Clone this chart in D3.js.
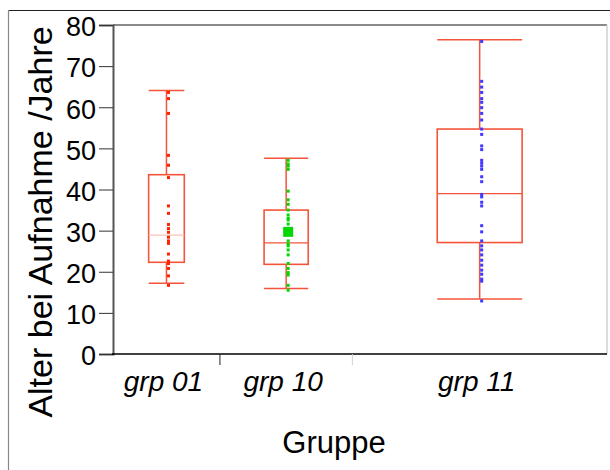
<!DOCTYPE html>
<html>
<head>
<meta charset="utf-8">
<script src="https://cdn.jsdelivr.net/npm/d3@7"></script>
<style>
  html, body { margin: 0; padding: 0; background: #fff; }
  svg { display: block; font-family: "Liberation Sans", Arial, sans-serif; }
</style>
</head>
<body>
<svg id="chart" width="610" height="470"></svg>
<script>
// ---- data ----
const categories = ["grp 01", "grp 10", "grp 11"];
const groupN = [21, 26, 50];            // relative group sizes (band widths)
const yTicks = [0, 10, 20, 30, 40, 50, 60, 70, 80];

const whiskerLow  = [17.2, 15.9, 13.4];
const quart1      = [22.3, 21.8, 27.1];
const medians     = [28.9, 27.0, 39.0];
const quart3      = [43.6, 35.0, 54.7];
const whiskerHigh = [64.1, 47.6, 76.4];
const means       = [null, 29.7, null];

const values01 = [63.6, 62.1, 58.5, 48.3, 45.9, 42.9, 36.0, 34.2, 31.5, 30.5, 29.6,
                  28.4, 27.5, 26.9, 24.3, 22.6, 22.0, 20.8, 19.0, 16.7];
const values10 = [47.1, 46.2, 45.7, 44.9, 39.6, 37.5, 36.4, 35.0, 33.8, 33.0, 32.6,
                  31.6, 27.5, 26.7, 26.3, 25.3, 24.1, 22.0, 20.8, 19.8, 19.2, 16.7, 15.5];
const values11 = [76.0, 66.3, 64.9, 63.6, 62.1, 61.2, 59.9, 58.5, 56.9, 54.7, 53.4,
                  50.6, 49.7, 47.1, 46.4, 45.7, 44.9, 43.1, 41.9, 38.8, 38.2, 36.9,
                  36.0, 31.2, 29.7, 27.5, 26.3, 25.3, 24.1, 22.8, 21.6, 20.4, 19.4,
                  18.2, 17.7, 12.9];
const pointColors = ["#ff2200", "#00d800", "#4038ff"];

// ---- layout ----
(function () {
const svg = d3.select("#chart");
const pLeft = 113, pRight = 607, pTop = 25, pBottom = 354;
const boxColor = "#f4553a";

const y = d3.scaleLinear().domain([0, 80]).range([pBottom, pTop]);

// proportional bands
const total = d3.sum(groupN);
const cum = [0]; groupN.forEach(n => cum.push(cum[cum.length - 1] + n));
const xw = d3.scaleLinear().domain([0, total]).range([pLeft, pRight]);
const bands = categories.map((c, i) => ({
  name: c, x0: xw(cum[i]), x1: xw(cum[i + 1]),
  cx: (xw(cum[i]) + xw(cum[i + 1])) / 2, w: xw(cum[i + 1]) - xw(cum[i])
}));

// outer frame
svg.append("line").attr("x1", 8).attr("x2", 610).attr("y1", 10.5).attr("y2", 10.5)
  .attr("stroke", "#222").attr("stroke-width", 1.2);
svg.append("line").attr("x1", 8.5).attr("x2", 8.5).attr("y1", 10).attr("y2", 470)
  .attr("stroke", "#888").attr("stroke-width", 1.2);

// plot frame
svg.append("line").attr("x1", pLeft).attr("x2", pRight).attr("y1", pTop).attr("y2", pTop)
  .attr("stroke", "#8a8a8a").attr("stroke-width", 2);
svg.append("line").attr("x1", pRight).attr("x2", pRight).attr("y1", pTop).attr("y2", pBottom)
  .attr("stroke", "#d0d0d0").attr("stroke-width", 1.5);

// y axis
const yAxis = d3.axisLeft(y).tickValues(yTicks).tickSize(14).tickPadding(3);
const gy = svg.append("g").attr("transform", `translate(${pLeft},0)`).call(yAxis);
gy.select(".domain").attr("stroke", "#555").attr("stroke-width", 2);
gy.selectAll(".tick line").attr("stroke", "#333").attr("stroke-width", 1);
gy.selectAll(".tick text").attr("font-size", 27).attr("fill", "#000")
  .attr("font-family", "Liberation Sans, Arial, sans-serif").attr("dy", "0.40em");

// x axis line
svg.append("line").attr("x1", pLeft - 1).attr("x2", pRight).attr("y1", pBottom).attr("y2", pBottom)
  .attr("stroke", "#000").attr("stroke-width", 1.5);
// boundary ticks
bands.slice(0, -1).forEach((b, i) => {
  svg.append("line").attr("x1", b.x1).attr("x2", b.x1).attr("y1", pBottom).attr("y2", pBottom + 11)
    .attr("stroke", i === 0 ? "#222" : "#d0d0d0").attr("stroke-width", 1);
});
// x labels
svg.selectAll("text.xlab").data(bands).enter().append("text")
  .attr("class", "xlab")
  .attr("x", d => d.cx - 3).attr("y", 391)
  .attr("text-anchor", "middle").attr("font-size", 28).attr("font-style", "italic")
  .text(d => d.name);

// titles
svg.append("text").attr("x", 334).attr("y", 453).attr("text-anchor", "middle")
  .attr("font-size", 31).text("Gruppe");
svg.append("text").attr("transform", "translate(52,222) rotate(-90)")
  .attr("text-anchor", "middle").attr("font-size", 34).text("Alter bei Aufnahme /Jahre");

// boxes
const g = svg.append("g");
bands.forEach((b, i) => {
  const bw = b.w / 3, bx = b.cx - bw / 2;
  g.append("line").attr("x1", b.cx).attr("x2", b.cx).attr("y1", y(quart3[i])).attr("y2", y(whiskerHigh[i]))
    .attr("stroke", boxColor).attr("stroke-width", 1.5);
  g.append("line").attr("x1", b.cx).attr("x2", b.cx).attr("y1", y(quart1[i])).attr("y2", y(whiskerLow[i]))
    .attr("stroke", boxColor).attr("stroke-width", 1.5);
  [whiskerHigh[i], whiskerLow[i]].forEach(v => {
    g.append("line").attr("x1", bx).attr("x2", bx + bw).attr("y1", y(v)).attr("y2", y(v))
      .attr("stroke", boxColor).attr("stroke-width", 1.5);
  });
  g.append("rect").attr("x", bx).attr("y", y(quart3[i])).attr("width", bw)
    .attr("height", y(quart1[i]) - y(quart3[i]))
    .attr("fill", "none").attr("stroke", boxColor).attr("stroke-width", 1.6);
  g.append("line").attr("x1", bx).attr("x2", bx + bw).attr("y1", y(medians[i])).attr("y2", y(medians[i]))
    .attr("stroke", i === 0 ? "#f8c4ba" : boxColor).attr("stroke-width", 1.3);
});

// points
const allValues = [values01, values10, values11];
bands.forEach((b, i) => {
  g.selectAll(null).data(allValues[i]).enter().append("rect")
    .attr("x", b.cx + 0.5).attr("y", v => y(v) - 1.5)
    .attr("width", 3).attr("height", 3).attr("fill", pointColors[i]);
  if (means[i] != null) {
    g.append("rect").attr("x", b.cx - 3).attr("y", y(means[i]) - 5)
      .attr("width", 10).attr("height", 10).attr("fill", pointColors[i]);
  }
});
})();
</script>
</body>
</html>
